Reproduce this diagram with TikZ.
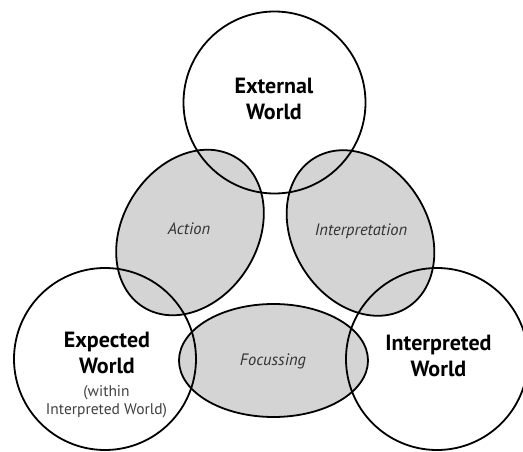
\documentclass[tikz,border=0pt]{standalone}
\usepackage{fontspec}
\setmainfont{PT Sans}
\usetikzlibrary{shapes.geometric}
\definecolor{lensgrey}{HTML}{D4D4D4}
\tikzset{
  world/.style={circle, draw, line width=1.8pt, minimum size=182pt, inner sep=0pt},
  lens/.style={ellipse, draw, fill=lensgrey, line width=1.8pt,
               minimum width=189pt, minimum height=113pt, inner sep=0pt},
  tiltlens/.style={lens, minimum width=176pt, minimum height=135pt},
  worldtxt/.style={font=\bfseries\fontsize{22}{26}\selectfont, align=center, inner sep=0pt},
  lenstxt/.style={font=\itshape\fontsize{16.5}{19}\selectfont, text=black!80, inner sep=0pt},
  notetxt/.style={font=\fontsize{15.5}{18}\selectfont, align=center, text=black!75, inner sep=0pt}
}
\begin{document}
\begin{tikzpicture}[x=1pt,y=-1pt]
        \useasboundingbox (0,0) rectangle (523,452);
        %% grey overlaps
        \node[tiltlens, rotate=58]  (action) at (190,232.5)   {};
        \node[tiltlens, rotate=-58] (interp) at (360.5,233)   {};
        \node[lens]                 (focus)  at (273.5,360.5) {};
        %% the three worlds
        \node[world] (external)    at (274.5,102.5) {};
        \node[world] (expected)    at (105,359)     {};
        \node[world] (interpreted) at (437,359)     {};
        %% world names
        \node[worldtxt] (externaltxt)    at (274,98.5)  {External\\World};
        \node[worldtxt] (expectedtxt)    at (107,352.5) {Expected\\World};
        \node[notetxt]  (expectednote)   at (106.5,402) {(within\\Interpreted World)};
        \node[worldtxt] (interpretedtxt) at (438.5,356) {Interpreted\\World};
        %% overlap names
        \node[lenstxt] (actiontxt) at (189,228.5) {Action};
        \node[lenstxt] (interptxt) at (361,231)   {Interpretation};
        \node[lenstxt] (focustxt)  at (273,361.5) {Focussing};
    \end{tikzpicture}
\end{document}
